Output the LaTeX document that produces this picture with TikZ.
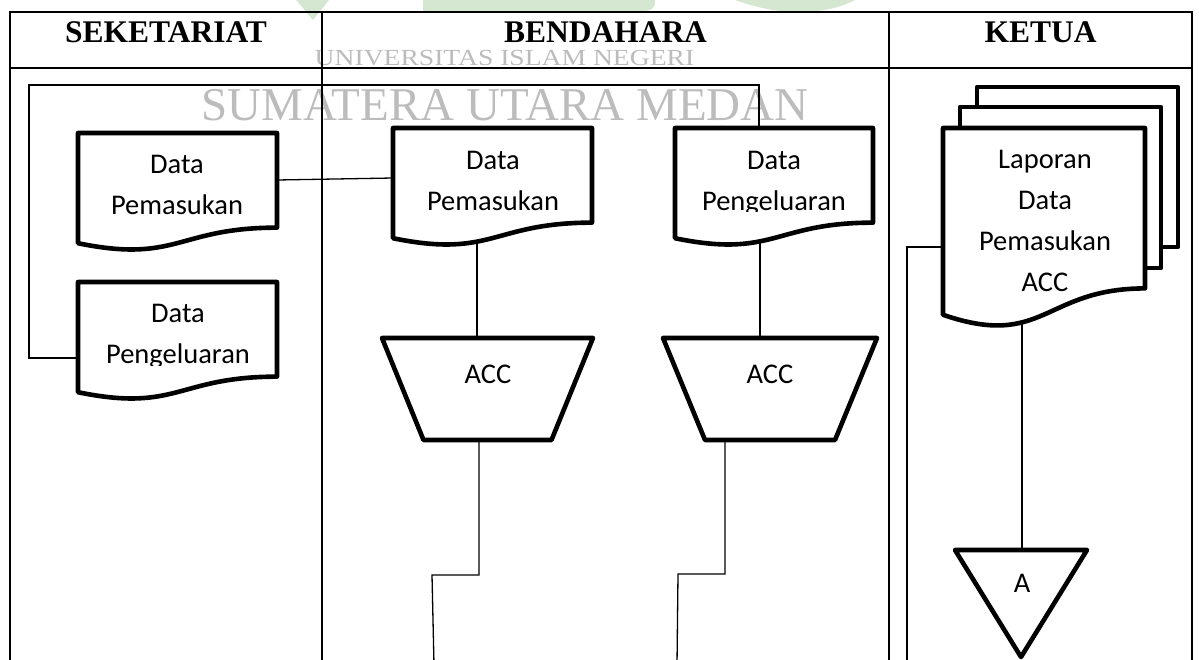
\documentclass[tikz,border=0pt]{standalone}
\usepackage{fontspec}
\usepackage{graphicx}
\setmainfont{Carlito}
\newfontfamily\headfont{Liberation Serif}
\usetikzlibrary{calc}

\definecolor{wmgray}{RGB}{188,188,188}
\definecolor{logogreen}{RGB}{213,231,209}

\tikzset{
  grid line/.style={line width=2pt},
  conn/.style={line width=1.3pt},
  shapeline/.style={line width=4.6pt, line join=round},
  box/.style={rectangle, draw=none, inner sep=0pt, outer sep=0pt},
  labeltext/.style={font=\fontsize{28.5}{41}\selectfont, align=center, inner sep=0pt, anchor=north},
  basetext/.style={font=\fontsize{28.5}{41}\selectfont, inner sep=0pt, anchor=base},
  head/.style={font=\headfont\bfseries\fontsize{31.5}{36}\selectfont, anchor=base, inner sep=0pt},
  watermark/.style={anchor=base, inner sep=0pt, text=wmgray},
}

% flowchart document symbol with a wavy lower edge
\newcommand\docoutline[1]{%
  \path[shapeline,draw,fill=white] let \p1=(#1.north west), \p2=(#1.south east) in
    (\x1,\y1) -- (\x2,\y1) -- (\x2,{\y1+0.802*(\y2-\y1)})
    .. controls ({0.5*(\x1+\x2)},{\y1+0.802*(\y2-\y1)}) and ({0.5*(\x1+\x2)},{\y1+1.107*(\y2-\y1)}) ..
    (\x1,{\y1+0.934*(\y2-\y1)}) -- cycle;}

% manual operation symbol (inverted trapezoid)
\newcommand\trapoutline[2]{%
  \path[shapeline,draw,fill=white] (#1.north west) -- (#1.north east)
    -- ([xshift=-#2]#1.south east) -- ([xshift=#2]#1.south west) -- cycle;}

\begin{document}
\begin{tikzpicture}[x=1pt,y=-1pt]
\path[use as bounding box, clip] (0,0) rectangle (1199,659);
\fill[white] (0,0) rectangle (1199,659);

% logo fragments along the top edge
\fill[logogreen] (292,-5) -- (333,-5) -- (313,20) -- cycle;
\fill[logogreen] (423,-5) -- (423,11) -- (645,11) .. controls (650,11) and (655,8) .. (655,3) -- (655,-5) -- cycle;
\fill[logogreen] (735,-5) -- (735,0) .. controls (760,9) and (780,12) .. (800,12)
  .. controls (820,12) and (840,8) .. (855,0) -- (855,-5) -- cycle;

% watermark
\node[watermark, font=\headfont\fontsize{23}{26}\selectfont] (wm1) at (504.5,65)
  {\scalebox{1.2}[1]{UNIVERSITAS ISLAM NEGERI}};
\node[watermark, font=\headfont\fontsize{47}{50}\selectfont] (wm2) at (505,120)
  {SUMATERA UTARA MEDAN};

% swimlane table
\draw[grid line] (10,670) -- (10,12) -- (1192,12) -- (1192,670);
\draw[grid line] (10,68) -- (1192,68);
\draw[grid line] (322,12) -- (322,670);
\draw[grid line] (889,12) -- (889,670);

\node[head] (hsek) at (166,42.5) {SEKETARIAT};
\node[head] (hben) at (605.5,42.5) {BENDAHARA};
\node[head] (hket) at (1040.5,42.5) {KETUA};

% symbol frames
\node[box, minimum width=199pt, minimum height=118pt, anchor=north west] (ld1) at (78,133) {};
\node[box, minimum width=199pt, minimum height=118pt, anchor=north west] (ld2) at (78,282) {};
\node[box, minimum width=199pt, minimum height=118pt, anchor=north west] (bl) at (393,128) {};
\node[box, minimum width=198pt, minimum height=118pt, anchor=north west] (br) at (675,128) {};
\node[box, minimum width=211pt, minimum height=102pt, anchor=north west] (tl) at (382,338) {};
\node[box, minimum width=214pt, minimum height=102pt, anchor=north west] (tr) at (663,338) {};
\node[box, minimum width=202pt, minimum height=200pt, anchor=north west] (kf) at (943,128) {};
\node[box, minimum width=132pt, minimum height=107pt, anchor=north west] (tri) at (955,550) {};

\coordinate (offL) at (434,665);
\coordinate (offR) at (677,665);
\coordinate (offK) at (907,665);

% connectors
\draw[conn] (ld2.west |- 0,358) -| (29,85) -| ([xshift=-15pt]br.north);
\draw[conn] (ld1.east |- 0,180) -- (bl.west |- 0,178);
\draw[conn] (bl.center -| 477,0) -- (tl.north -| 477,0);
\draw[conn] (br.center -| 760,0) -- (tr.north -| 760,0);
\draw[conn] (tl.south -| 479,0) |- (432,575) -- (offL);
\draw[conn] (tr.south -| 725,0) |- (678,574) -- (offR);
\draw[conn] (kf.center -| 1022,0) -- (tri.north -| 1022,0);
\draw[conn] (kf.west |- 0,247) -| (offK);

% symbols
\docoutline{ld1}
\docoutline{ld2}
\docoutline{bl}
\docoutline{br}
\trapoutline{tl}{41.5pt}
\trapoutline{tr}{42pt}
\draw[shapeline] (977,107) -- (977,87) -- (1178,87) -- (1178,247) -- (1161,247);
\draw[shapeline] (960,128) -- (960,107) -- (1161,107) -- (1161,268) -- (1145,268);
\docoutline{kf}
\path[shapeline,draw,fill=white] (tri.north west) -- (tri.north east) -- (tri.south) -- cycle;

% texts
\node[labeltext] (t1) at (177,148) {\rule{0pt}{25pt}Data\\Pemasukan};
\begin{scope}
  \clip (80,285) rectangle (275,365);
  \node[labeltext] (t2) at (178,297.5) {\rule{0pt}{25pt}Data\\Pengeluaran};
\end{scope}
\node[labeltext] (t3) at (493,144) {\rule{0pt}{25pt}Data\\Pemasukan};
\begin{scope}
  \clip (677,130) rectangle (871,211);
  \node[labeltext] (t4) at (774,144) {\rule{0pt}{25pt}Data\\Pengeluaran};
\end{scope}
\node[labeltext] (t5) at (1045,143) {\rule{0pt}{25pt}Laporan\\Data\\Pemasukan\\ACC};
\node[basetext] (t6) at (488,383) {ACC};
\node[basetext] (t7) at (770,383) {ACC};
\node[basetext] (t8) at (1022,592) {A};
\end{tikzpicture}
\end{document}
